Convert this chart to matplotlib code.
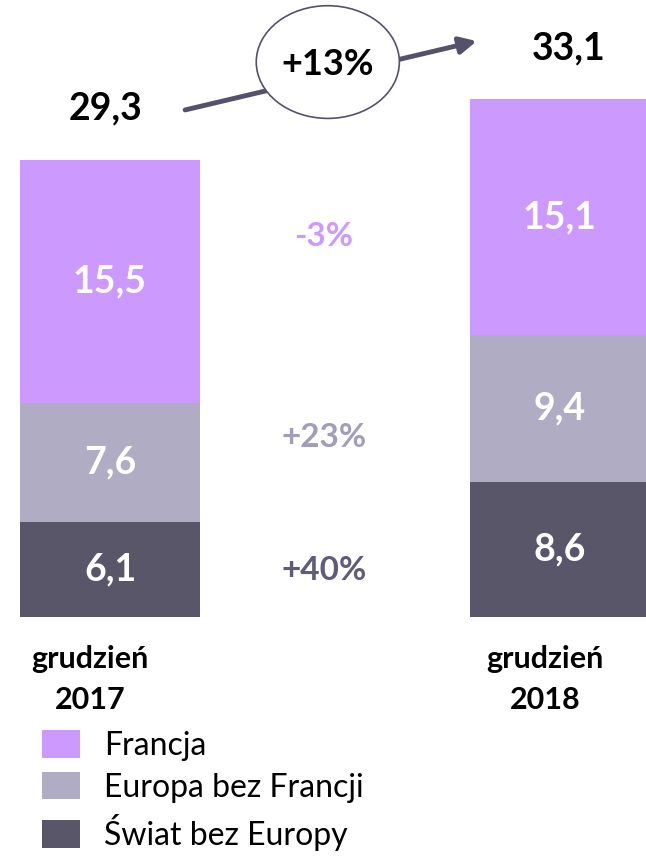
import numpy as np
import matplotlib
matplotlib.use("Agg")
import matplotlib.pyplot as plt
from matplotlib.patches import Ellipse

plt.rcParams['font.family'] = ['Lato', 'DejaVu Sans']

# data
periods = ['grudzień\n2017', 'grudzień\n2018']
francja = [15.5, 15.1]
europa = [7.6, 9.4]
swiat = [6.1, 8.6]
totals = ['29,3', '33,1']
changes = ['-3%', '+23%', '+40%']
total_change = '+13%'
series_names = ['Francja', 'Europa bez Francji', 'Świat bez Europy']

c_fr = '#CC99FF'
c_eu = '#B0ACC4'
c_sw = '#5A5669'
c_chg = ['#CC99FF', '#A29DB9', '#5F5B78']

fig = plt.figure(figsize=(6.46, 8.58), dpi=100)
ax = fig.add_axes([0, 0, 1, 1])
# 1 value unit ~ 15.65 px, bars start at 617 px from the top
ax.set_xlim(-110 / 450, 536 / 450)
ax.set_ylim((617 - 858) / 15.65, 617 / 15.65)
ax.axis('off')

x = np.arange(len(periods))
w = 0.4
b1 = ax.bar(x, swiat, w, color=c_sw, label=series_names[2])
b2 = ax.bar(x, europa, w, bottom=swiat, color=c_eu, label=series_names[1])
bot3 = np.array(swiat) + np.array(europa)
b3 = ax.bar(x, francja, w, bottom=bot3, color=c_fr, label=series_names[0])

def fmt(v):
    return ('%.1f' % v).replace('.', ',')

for i in range(len(periods)):
    ax.text(x[i], swiat[i] / 2, fmt(swiat[i]), ha='center', va='center',
            color='white', fontsize=27, fontweight='bold')
    ax.text(x[i], swiat[i] + europa[i] / 2, fmt(europa[i]), ha='center', va='center',
            color='white', fontsize=27, fontweight='bold')
    ax.text(x[i], bot3[i] + francja[i] / 2, fmt(francja[i]), ha='center', va='center',
            color='white', fontsize=27, fontweight='bold')

# totals above bars
tot = bot3 + np.array(francja)
ax.text(x[0] - 0.01, tot[0] + 3.3, totals[0], ha='center', va='center',
        fontsize=27, fontweight='bold')
ax.text(x[1] + 0.02, tot[1] + 3.2, totals[1], ha='center', va='center',
        fontsize=27, fontweight='bold')

# change labels in the middle
mids = [24.3, 11.5, 3.0]
for lab, yy, cc in zip(changes, mids, c_chg):
    ax.text(0.475, yy, lab, ha='center', va='center', color=cc,
            fontsize=24, fontweight='bold')

# arrow + ellipse
ax.annotate('', xy=(0.815, 36.8), xytext=(0.167, 32.4),
            arrowprops=dict(arrowstyle='-|>', color='#55516A', lw=3.5,
                            mutation_scale=25, shrinkA=0, shrinkB=0))
ax.add_patch(Ellipse((0.484, 35.46), 0.318, 7.2, facecolor='white',
                     edgecolor='#55516A', lw=1.2, zorder=3))
ax.text(0.484, 35.3, total_change, ha='center', va='center', fontsize=26,
        fontweight='bold', zorder=4)

# category labels
ax.text(-0.044, -4.0, periods[0], ha='center', va='center', fontsize=22,
        fontweight='bold', linespacing=1.55)
ax.text(0.967, -4.0, periods[1], ha='center', va='center', fontsize=22,
        fontweight='bold', linespacing=1.55)

ax.legend(handles=[b3, b2, b1], loc='upper left', bbox_to_anchor=(42 / 646, 1 - 730 / 858),
          bbox_transform=fig.transFigure, frameon=False, fontsize=23,
          handlelength=1.2, handleheight=0.95, handletextpad=0.75,
          labelspacing=0.35, borderpad=0, borderaxespad=0)

fig.savefig('out.png', dpi=100)
